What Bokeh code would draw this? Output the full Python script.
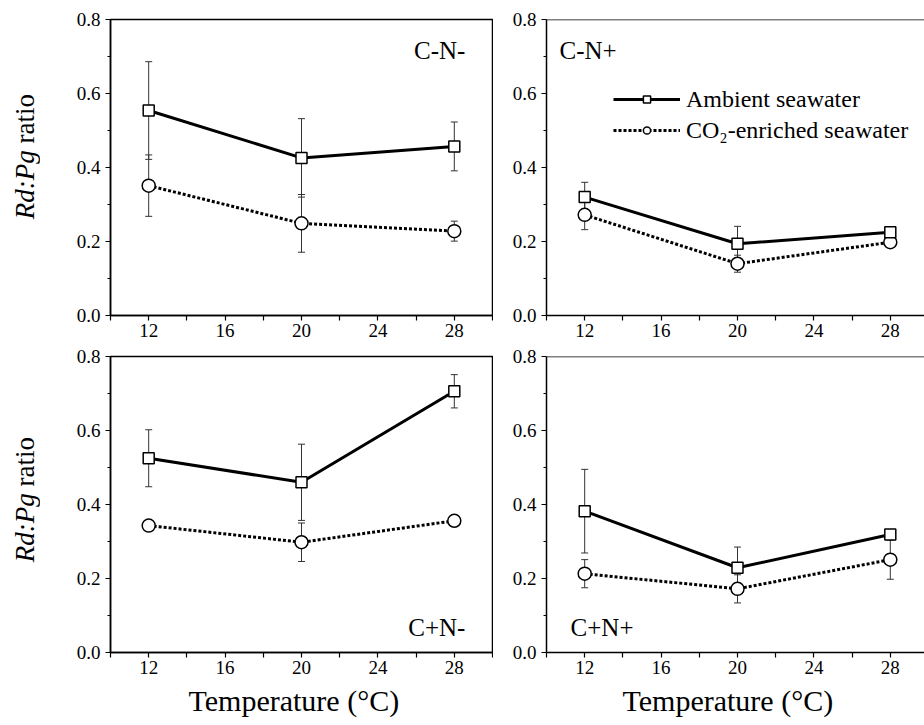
from bokeh.plotting import figure
from bokeh.models import (ColumnDataSource, Whisker, TeeHead, FixedTicker, Label, Legend,
                          LegendItem, Range1d, PrintfTickFormatter, Span, Title, Div)
from bokeh.layouts import column, row
from bokeh.embed import file_html
from bokeh.resources import INLINE

FONT = "Liberation Serif"

temps = [12, 20, 28]
x_ticks = [12, 16, 20, 24, 28]
x_minor = [10, 14, 18, 22, 26, 30]
y_ticks = [0.0, 0.2, 0.4, 0.6, 0.8]
y_minor = [0.1, 0.3, 0.5, 0.7]
panel_names = ["C-N-", "C-N+", "C+N-", "C+N+"]
series_names = ["Ambient seawater", "CO\u2082-enriched seawater"]
x_title = "Temperature (\u00b0C)"

# C-N-
amb_cnm = [0.554, 0.426, 0.457]
amb_cnm_err = [0.132, 0.106, 0.066]
co2_cnm = [0.351, 0.249, 0.228]
co2_cnm_err = [0.083, 0.078, 0.027]
# C-N+
amb_cnp = [0.320, 0.194, 0.225]
amb_cnp_err = [0.040, 0.047, 0.010]
co2_cnp = [0.272, 0.140, 0.198]
co2_cnp_err = [0.040, 0.023, 0.013]
# C+N-
amb_cpnm = [0.525, 0.460, 0.706]
amb_cpnm_err = [0.077, 0.103, 0.045]
co2_cpnm = [0.343, 0.298, 0.356]
co2_cpnm_err = [0.010, 0.052, 0.005]
# C+N+
amb_cpnp = [0.382, 0.229, 0.319]
amb_cpnp_err = [0.113, 0.056, 0.010]
co2_cpnp = [0.213, 0.172, 0.251]
co2_cpnp_err = [0.038, 0.038, 0.053]

PX_PER_UNIT = 382 / 20.0


def make_panel(amb, amb_err, co2, co2_err, name, left, top, name_pos, legend=False):
    if left:
        fw = 382
        xr = Range1d(10, 30)
        mbl, mbr = 60, 1
    else:
        fw = 378
        xr = Range1d(10, 10 + fw / PX_PER_UNIT)
        mbl, mbr = 53, 0
    if top:
        mbt, mbb = 19, 30
    else:
        mbt, mbb = 11, 73
    p = figure(frame_width=fw, frame_height=296, x_range=xr, y_range=Range1d(0, 0.8),
               output_backend="svg", toolbar_location=None,
               min_border_left=mbl, min_border_right=mbr, min_border_top=mbt, min_border_bottom=mbb)
    p.xgrid.visible = False
    p.ygrid.visible = False
    p.background_fill_color = "white"
    p.border_fill_color = "white"
    if left:
        p.outline_line_color = "black"
        p.outline_line_width = 1.5
        p.outline_line_alpha = 1
    else:
        p.outline_line_color = None
        p.add_layout(Span(location=0.8, dimension="width", line_color="black", line_width=1.5))

    for ax in (p.xaxis[0], p.yaxis[0]):
        ax.axis_line_width = 1.5
        ax.axis_line_color = "black"
        ax.major_tick_line_width = 1.2
        ax.minor_tick_line_width = 1.2
        ax.major_tick_in = 0
        ax.minor_tick_in = 0
        ax.major_label_text_font = FONT
        ax.major_label_text_font_size = "19px"
        ax.major_label_text_color = "black"
    p.xaxis.ticker = FixedTicker(ticks=x_ticks, minor_ticks=x_minor)
    p.xaxis.major_tick_out = 5
    p.xaxis.minor_tick_out = 5
    p.xaxis.major_label_standoff = 3
    p.yaxis.ticker = FixedTicker(ticks=y_ticks, minor_ticks=y_minor)
    p.yaxis.formatter = PrintfTickFormatter(format="%.1f")
    p.yaxis.major_tick_out = 5
    p.yaxis.minor_tick_out = 3
    p.yaxis.major_label_standoff = 5
    if not top:
        p.add_layout(Title(text=x_title, align="left", offset=(78 if left else 76), text_font=FONT,
                           text_font_size="30px", text_font_style="normal", text_color="black",
                           standoff=11), "below")

    src_a = ColumnDataSource(dict(x=temps, y=amb, lo=[v - e for v, e in zip(amb, amb_err)],
                                  hi=[v + e for v, e in zip(amb, amb_err)]))
    src_c = ColumnDataSource(dict(x=temps, y=co2, lo=[v - e for v, e in zip(co2, co2_err)],
                                  hi=[v + e for v, e in zip(co2, co2_err)]))
    for src in (src_a, src_c):
        w = Whisker(base="x", lower="lo", upper="hi", source=src, line_color="#333333", line_width=1,
                    upper_head=TeeHead(size=7, line_color="#333333", line_width=1),
                    lower_head=TeeHead(size=7, line_color="#333333", line_width=1))
        p.add_layout(w)

    lc = p.line("x", "y", source=src_c, line_color="black", line_width=3, line_dash="3 2")
    la = p.line("x", "y", source=src_a, line_color="black", line_width=3)
    sc = p.scatter("x", "y", source=src_c, marker="circle", size=13, fill_color="white",
                   line_color="black", line_width=1.5)
    sa = p.scatter("x", "y", source=src_a, marker="square", size=11, fill_color="white",
                   line_color="black", line_width=1.5)

    nx, ny, align = name_pos
    p.add_layout(Label(x=nx, y=ny, text=name, text_align=align, text_baseline="middle",
                       text_font=FONT, text_font_size="25px", text_color="black"))

    if legend:
        lg = Legend(items=[LegendItem(label=series_names[0], renderers=[la, sa]),
                           LegendItem(label=series_names[1], renderers=[lc, sc])],
                    location=(67, 171), padding=0, margin=0, spacing=3, glyph_width=67,
                    glyph_height=18, label_height=28, label_standoff=6,
                    label_text_font=FONT, label_text_font_size="24px", label_text_color="black",
                    background_fill_alpha=0, border_line_color=None)
        p.add_layout(lg)
    return p


def ytitle_div(height, pad_bottom):
    html = ("<div style=\"height:%dpx;width:50px;display:flex;align-items:center;"
            "justify-content:center;box-sizing:border-box;padding-bottom:%dpx;\">"
            "<span style=\"writing-mode:vertical-rl;transform:rotate(180deg);"
            "font-family:'Liberation Serif';font-size:27px;line-height:1;white-space:nowrap;"
            "color:black;\"><i>Rd</i><i>:</i><i>Pg</i> ratio</span></div>") % (height, pad_bottom)
    return Div(text=html, width=50, height=height, margin=0)


p1 = make_panel(amb_cnm, amb_cnm_err, co2_cnm, co2_cnm_err, panel_names[0], True, True,
                (28.58, 0.716, "right"))
p2 = make_panel(amb_cnp, amb_cnp_err, co2_cnp, co2_cnp_err, panel_names[1], False, True,
                (10.68, 0.716, "left"), legend=True)
p3 = make_panel(amb_cpnm, amb_cpnm_err, co2_cpnm, co2_cpnm_err, panel_names[2], True, False,
                (28.58, 0.068, "right"))
p4 = make_panel(amb_cpnp, amb_cpnp_err, co2_cpnp, co2_cpnp_err, panel_names[3], False, False,
                (11.26, 0.068, "left"))

d1 = ytitle_div(345, 32)
d2 = ytitle_div(380, 71)

layout = column(row(d1, p1, p2, spacing=0), row(d2, p3, p4, spacing=0), spacing=0)
open("out.html", "w").write(file_html(layout, INLINE))
